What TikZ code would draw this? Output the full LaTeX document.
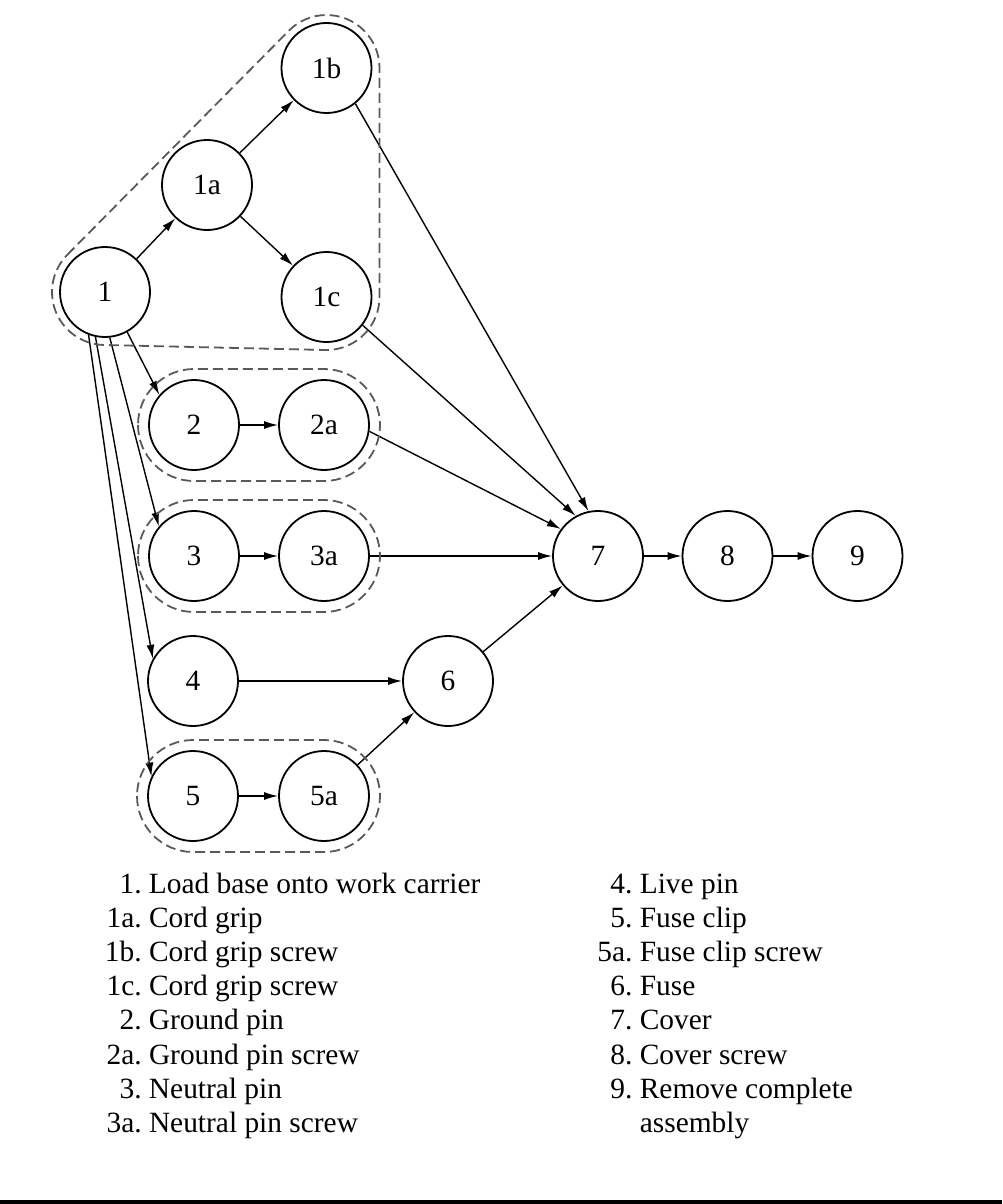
\documentclass[tikz,border=0pt]{standalone}
\usepackage{fontspec}
\setmainfont{Liberation Serif}
\usetikzlibrary{positioning,calc,arrows.meta}

\begin{document}
\begin{tikzpicture}[x=0.5pt, y=-0.5pt,
  op/.style={circle, draw, line width=0.9pt, minimum size=45pt, inner sep=0pt, font=\fontsize{14.7}{17.1}\selectfont},
  arr/.style={-{Latex[length=7pt,width=4pt]}, line width=0.7pt},
  grp/.style={dash pattern=on 5pt off 2.5pt, line width=0.9pt, black!65}]
  \useasboundingbox (0,0) rectangle (1002,1204);
  \node[op] (n1) at (105, 292) {1};
  \node[op] (n1a) at (207, 185) {1a};
  \draw[arr] (n1) -- (n1a);
  \node[op] (n1b) at (326.5, 68) {1b};
  \draw[arr] (n1a) -- (n1b);
  \node[op] (n1c) at (326.5, 297) {1c};
  \draw[arr] (n1a) -- (n1c);
  \node[op] (n2) at (194, 425) {2};
  \draw[arr] (n1.-61) -- (n2.139);
  \node[op] (n2a) at (324, 425) {2a};
  \draw[arr] (n2) -- (n2a);
  \node[op] (n3) at (194, 556) {3};
  \draw[arr] (n1.-84) -- (n3.140);
  \node[op] (n3a) at (324, 556) {3a};
  \draw[arr] (n3) -- (n3a);
  \node[op] (n4) at (193, 681) {4};
  \draw[arr] (n1.-102) -- (n4.151);
  \node[op] (n5) at (193, 796) {5};
  \draw[arr] (n1.-111) -- (n5.155);
  \node[op] (n5a) at (324, 796) {5a};
  \draw[arr] (n5) -- (n5a);
  \node[op] (n6) at (448, 681) {6};
  \draw[arr] (n4) -- (n6);
  \draw[arr] (n5a) -- (n6);
  \node[op] (n7) at (598, 556) {7};
  \draw[arr] (n1b.-51) -- (n7.102);
  \draw[arr] (n1c.-38) -- (n7.119);
  \draw[arr] (n2a.-8) -- (n7.144);
  \draw[arr] (n3a) -- (n7);
  \draw[arr] (n6) -- (n7);
  \node[op] (n8) at (727.5, 556) {8};
  \draw[arr] (n7) -- (n8);
  \node[op] (n9) at (857.5, 556) {9};
  \draw[arr] (n8) -- (n9);
  % dashed groups
  \draw[grp] ($(n1.center)+(135.3:26.5pt)$) -- ($(n1b.center)+(135.3:26.5pt)$)
    arc[start angle=135.3, end angle=0, radius=26.5pt] -- ($(n1c.center)+(0:26.5pt)$)
    arc[start angle=0, end angle=-91.3, radius=26.5pt] -- ($(n1.center)+(-91.3:26.5pt)$)
    arc[start angle=-91.3, end angle=-224.7, radius=26.5pt] -- cycle;
  \draw[grp, rounded corners=28pt] ($(n2.center)+(-56,-56)$) rectangle ($(n2a.center)+(56,56)$);
  \draw[grp, rounded corners=28pt] ($(n3.center)+(-56,-56)$) rectangle ($(n3a.center)+(56,56)$);
  \draw[grp, rounded corners=28pt] ($(n5.center)+(-56,-56)$) rectangle ($(n5a.center)+(56,56)$);
  % legend
  \node[anchor=base west, inner sep=0pt, font=\fontsize{14.7}{17.1}\selectfont] (legendL) at (104.5, 893) {%
    \begin{tabular}[t]{@{}r@{\ }l@{}}
      1. & Load base onto work carrier\\
      1a. & Cord grip\\
      1b. & Cord grip screw\\
      1c. & Cord grip screw\\
      2. & Ground pin\\
      2a. & Ground pin screw\\
      3. & Neutral pin\\
      3a. & Neutral pin screw
    \end{tabular}};
  \node[anchor=base west, inner sep=0pt, font=\fontsize{14.7}{17.1}\selectfont] (legendR) at (597, 893) {%
    \begin{tabular}[t]{@{}r@{\ }l@{}}
      4. & Live pin\\
      5. & Fuse clip\\
      5a. & Fuse clip screw\\
      6. & Fuse\\
      7. & Cover\\
      8. & Cover screw\\
      9. & Remove complete\\
         & assembly
    \end{tabular}};
  \fill (0, 1199.5) rectangle (1002, 1204);
\end{tikzpicture}
\end{document}
